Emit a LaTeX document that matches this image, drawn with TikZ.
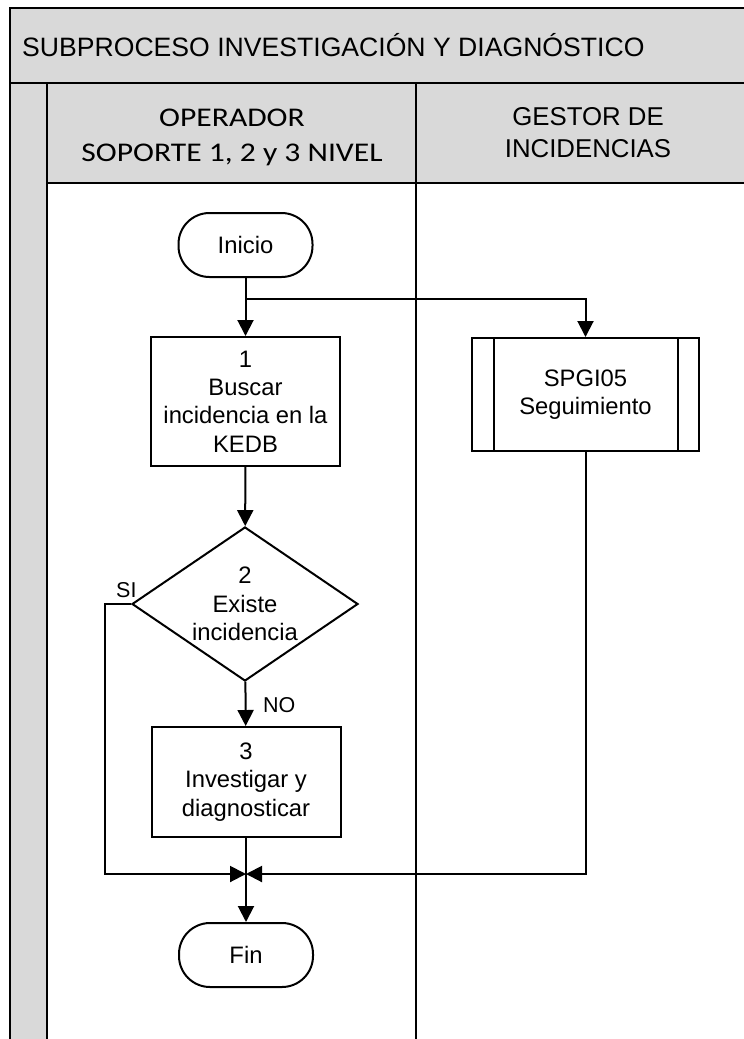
\documentclass[tikz,border=0pt]{standalone}
\usepackage{fontspec}
\setmainfont{Liberation Sans}
\newfontfamily\calfont[FakeStretch=1.17]{Carlito}
\usetikzlibrary{shapes.geometric,arrows.meta,calc}
\definecolor{hdr}{RGB}{217,217,217}
\begin{document}
\begin{tikzpicture}[x=1pt,y=-1pt,
  ln/.style={line width=2pt},
  arr/.style={line width=2pt,-{Triangle[length=16pt,width=16pt]}},
  txt/.style={font=\fontsize{23.8}{28.3}\selectfont,align=center,inner sep=0pt},
  proc/.style={txt,draw,line width=2pt,fill=white,minimum width=189pt},
  term/.style={txt,draw,line width=2pt,fill=white,rounded corners=31pt,minimum width=134pt,minimum height=64pt},
  decis/.style={txt,draw,line width=2pt,fill=white,diamond,aspect=1.47,minimum width=226pt,minimum height=154pt},
  subp/.style={txt,draw,line width=2pt,fill=white,minimum width=227pt,minimum height=113pt},
  lbl/.style={font=\fontsize{21.5}{24}\selectfont,inner sep=0pt}
]
\useasboundingbox (0,0) rectangle (744,1039);
\clip (0,0) rectangle (744,1039);
% pool and lanes
\fill[hdr] (10,8) rectangle (780,183);
\fill[hdr] (10,183) rectangle (47,1060);
\draw[ln] (10,1060) -- (10,8) -- (780,8);
\draw[ln] (10,83) -- (780,83);
\draw[ln] (47,183) -- (780,183);
\draw[ln] (47,83) -- (47,1060);
\draw[ln] (416,83) -- (416,1060);
\node[anchor=base west,inner sep=0pt,font=\fontsize{26.6}{30}\selectfont] (title) at (22,56) {SUBPROCESO INVESTIGACIÓN Y DIAGNÓSTICO};
\node[align=center,inner sep=0pt,font=\calfont\fontsize{27}{35}\selectfont] (lane1) at (232,137) {OPERADOR\\SOPORTE 1, 2 y 3 NIVEL};
\node[align=center,inner sep=0pt,font=\fontsize{25.8}{32}\selectfont] (lane2) at (588,133) {GESTOR DE\\INCIDENCIAS};
% flow nodes
\node[term] (ini) at (245.5,245) {Inicio};
\node[proc,minimum height=129pt] (b1) at (245.5,401.5) {1\\Buscar\\incidencia en la\\KEDB};
\node[decis] (d2) at (245,604) {2\\Existe\\incidencia};
\node[proc,minimum height=110pt] (b3) at (246,782) {3\\Investigar y\\diagnosticar};
\node[term] (fin) at (246,955) {Fin};
\node[subp] (sp) at (585.5,394.5) {SPGI05\\Seguimiento};
\draw[line width=2pt] ($(sp.north west)+(23,0)$) -- ($(sp.south west)+(23,0)$);
\draw[line width=2pt] ($(sp.north east)+(-22,0)$) -- ($(sp.south east)+(-22,0)$);
% connectors
\coordinate (br) at (245.5,299);
\coordinate (j) at (246,874);
\draw[arr] (ini) -- (b1);
\draw[arr] (br) -| (sp.north);
\draw[arr] (b1) -- (d2);
\draw[arr] (d2) -- (b3);
\draw[arr] (d2.west) -- ++(-26,0) |- (j);
\draw[arr] (sp.south) |- (j);
\draw[arr] (b3) -- (fin);
\node[lbl,anchor=base west] (no) at (263,712) {NO};
\node[lbl,anchor=base west] (si) at (116,597) {SI};
\end{tikzpicture}
\end{document}
